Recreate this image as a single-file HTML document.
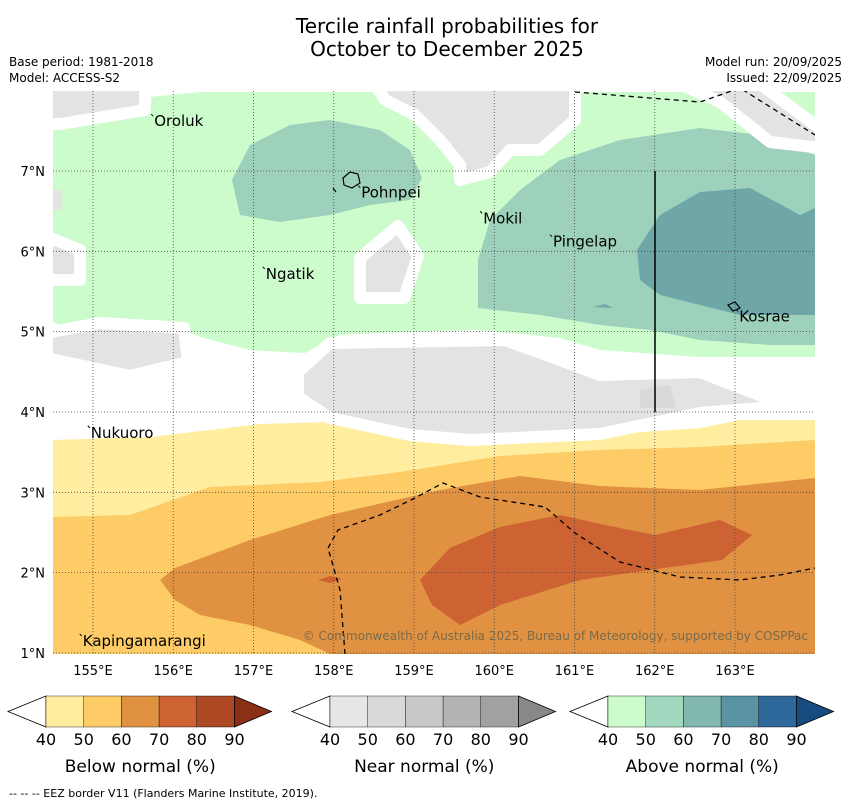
<!DOCTYPE html>
<html><head><meta charset="utf-8"><style>
body{margin:0;background:#fff;}
svg text{font-family:"DejaVu Sans","Liberation Sans",sans-serif;}
</style></head><body>
<svg id="c" width="850" height="804" viewBox="0 0 850 804" xmlns="http://www.w3.org/2000/svg">
<text x="447" y="33" font-size="20" text-anchor="middle">Tercile rainfall probabilities for</text>
<text x="447" y="56" font-size="20" text-anchor="middle">October to December 2025</text>
<text x="9" y="66" font-size="12">Base period: 1981-2018</text>
<text x="9" y="82" font-size="12">Model: ACCESS-S2</text>
<text x="842" y="66" font-size="12" text-anchor="end">Model run: 20/09/2025</text>
<text x="842" y="82" font-size="12" text-anchor="end">Issued: 22/09/2025</text>
<defs><clipPath id="mc"><rect x="53" y="91" width="762" height="563"/></clipPath></defs>
<g id="map" clip-path="url(#mc)">
<rect x="53" y="91" width="762" height="563" fill="#fff"/>
<path d="M53,440 L150,437 L210,430 L260,424 L330,422 L410,435 L500,432 L600,435 L700,428 L740,420 L815,420 L815,654 L53,654Z" fill="#ffeda0"/>
<path d="M53,517 L130,515 L210,487 L320,482 L400,472 L500,456 L600,450 L700,447 L815,440 L815,654 L53,654Z" fill="#fecc66"/>
<path d="M815,478 L700,490 L600,486 L520,476 L440,490 L330,515 L250,540 L175,568 L160,580 L175,600 L200,615 L250,625 L300,640 L330,654 L815,654Z" fill="#e09242"/>
<path d="M420,580 L450,548 L500,527 L560,515 L605,525 L655,535 L720,520 L752,535 L722,560 L650,570 L580,580 L500,605 L460,625 L432,605Z" fill="#cd6233"/>
<path d="M318,580 L330,576 L342,579 L330,583Z" fill="#cd6233"/>
<path d="M53,130 L90,110 L120,100 L200,92 L815,92 L815,357 L700,357 L600,350 L560,338 L480,330 L400,332 L340,335 L305,353 L250,350 L200,337 L160,320 L110,322 L70,330 L53,322Z" fill="#ccfccc"/>
<path d="M232,180 L250,145 L290,125 L330,120 L380,130 L410,150 L422,178 L410,200 L370,205 L330,215 L280,222 L240,215Z" fill="#9dd1bb"/>
<path d="M478,260 L490,220 L520,190 L560,160 L620,140 L700,128 L760,135 L815,155 L815,345 L770,345 L700,340 L650,330 L600,325 L540,315 L478,308Z" fill="#9dd1bb"/>
<path d="M637,250 L660,215 L700,192 L750,188 L800,215 L815,208 L815,315 L740,315 L700,305 L660,295 L640,280Z" fill="#6fa6a8"/>
<path d="M593,307 L605,304 L613,308Z" fill="#6fa6a8"/>
<g fill="#e3e3e3" stroke="#fff" stroke-width="12" stroke-linejoin="round">
<path d="M375,84 L575,84 L575,120 L540,150 L510,150 L490,172 L460,180 L460,165 L440,140 L415,115 L385,100Z"/>
<path d="M680,84 L760,84 L822,130 L822,148 L770,142 L720,102Z"/>
<path d="M46,84 L145,84 L145,110 L60,124 L46,124Z"/>
<path d="M360,258 L398,226 L418,256 L404,298 L360,298Z"/>
<path d="M46,236 L80,250 L80,280 L46,280Z"/>
<path d="M46,333 L100,323 L184,328 L188,362 L130,376 L46,358Z"/>
<path d="M298,372 L330,343 L505,340 L560,360 L600,375 L700,372 L772,400 L772,407 L700,413 L600,434 L470,440 L410,435 L330,418 L298,397Z"/>
</g>
<path d="M46,190 L62,190 L62,210 L46,210Z" fill="#e3e3e3"/>
<path d="M640,390 L670,385 L676,408 L640,408Z" fill="#d9d9d9"/>
<g id="grid" stroke="#444" stroke-width="0.8" stroke-dasharray="1,2"></g>
<g fill="none" stroke="#000" stroke-width="1.3" stroke-dasharray="5,4">
<path d="M575,92 L700,102 L740,88 L815,135"/>
<path d="M345,654 L340,590 L328,548 L338,530 L380,515 L415,498 L443,483 L480,497 L545,507 L575,533 L620,562 L680,577 L740,580 L780,575 L815,568"/>
</g>
<line x1="655" y1="171" x2="655" y2="412" stroke="#000" stroke-width="1.5"/>
<path d="M343,178 L350,172 L358,174 L360,183 L352,188 L344,185Z M333,188 L336,192" fill="none" stroke="#000" stroke-width="1.2"/>
<path d="M728,305 L735,302 L740,308 L733,311Z" fill="none" stroke="#000" stroke-width="1.2"/>
<g id="places" font-size="15"></g>
<text x="808" y="640" font-size="12" text-anchor="end" fill="#7a6a4a">© Commonwealth of Australia 2025, Bureau of Meteorology, supported by COSPPac</text>
</g>
<g id="axes" font-size="13"></g>
<g id="bars"></g>
<text x="9" y="797" font-size="11">--  --  -- EEZ border V11 (Flanders Marine Institute, 2019).</text>
</svg>
<script>
const lonTicks=[155,156,157,158,159,160,161,162,163];
const latTicks=[7,6,5,4,3,2,1];
const places=["Oroluk","Pohnpei","Mokil","Pingelap","Ngatik","Kosrae","Nukuoro","Kapingamarangi"];
const placeLon=[155.75,158.33,159.85,160.72,157.14,163.04,154.96,154.86];
const placeLat=[7.62,6.73,6.41,6.12,5.72,5.19,3.74,1.15];
const cbTicks=[40,50,60,70,80,90];
const belowColors=["#ffeda0","#fecc66","#e09242","#cd6233","#ad4a25","#8c3015"];
const nearColors=["#e6e6e6","#d9d9d9","#c8c8c8","#b4b4b4","#a1a1a1","#888888"];
const aboveColors=["#ccfccc","#a1d8bf","#83b8ae","#5a93a4","#2e679a","#164c80"];
const titles=["Below normal (%)","Near normal (%)","Above normal (%)"];
const NS="http://www.w3.org/2000/svg";
const X=l=>93+(l-155)*80.25, Y=a=>171+(7-a)*80.33;
function mk(t,a,p){const e=document.createElementNS(NS,t);for(const k in a)e.setAttribute(k,a[k]);p.appendChild(e);return e;}
const grid=document.getElementById('grid'),axes=document.getElementById('axes');
lonTicks.forEach(l=>{const ln=mk('line',{x1:X(l),x2:X(l),y1:91,y2:654},grid);


const t=mk('text',{x:X(l),y:675,'text-anchor':'middle'},axes);t.textContent=l+'°E';

});
latTicks.forEach(a=>{const ln=mk('line',{x1:53,x2:815,y1:Y(a),y2:Y(a)},grid);


const t=mk('text',{x:45,y:Y(a)+5,'text-anchor':'end'},axes);t.textContent=a+'°N';

});
const pg=document.getElementById('places');
places.forEach((n,i)=>{const x=X(placeLon[i]),y=Y(placeLat[i])+5;
const d=mk('line',{x1:x-2,y1:y-12,x2:x,y2:y-10,stroke:'#000','stroke-width':1},pg);


const t=mk('text',{x:x+1,y:y},pg);t.textContent=n;

});
const bars=document.getElementById('bars');
const starts=[46,330,608],cols=[belowColors,nearColors,aboveColors];
starts.forEach((s,b)=>{const w=37.7,y0=696,h=31;const g=mk('g',{},bars);


const lt=mk('path',{d:`M${s},${y0} L${s-38},${y0+h/2} L${s},${y0+h}Z`,fill:'#fff',stroke:'#000','stroke-width':0.8},g);


for(let i=0;i<5;i++){const r=mk('rect',{x:s+i*w,y:y0,width:w,height:h,fill:cols[b][i],stroke:'#000','stroke-width':0.4},g);

}
const e=s+5*w;
const rt=mk('path',{d:`M${e},${y0} L${e+37},${y0+h/2} L${e},${y0+h}Z`,fill:cols[b][5],stroke:'#000','stroke-width':0.8},g);


cbTicks.forEach((v,i)=>{const t=mk('text',{x:s+i*w,y:745,'text-anchor':'middle','font-size':16},g);t.textContent=v;

});
const tt=mk('text',{x:s+2.5*w,y:772,'text-anchor':'middle','font-size':17},g);tt.textContent=titles[b];

});
</script>
</body></html>
